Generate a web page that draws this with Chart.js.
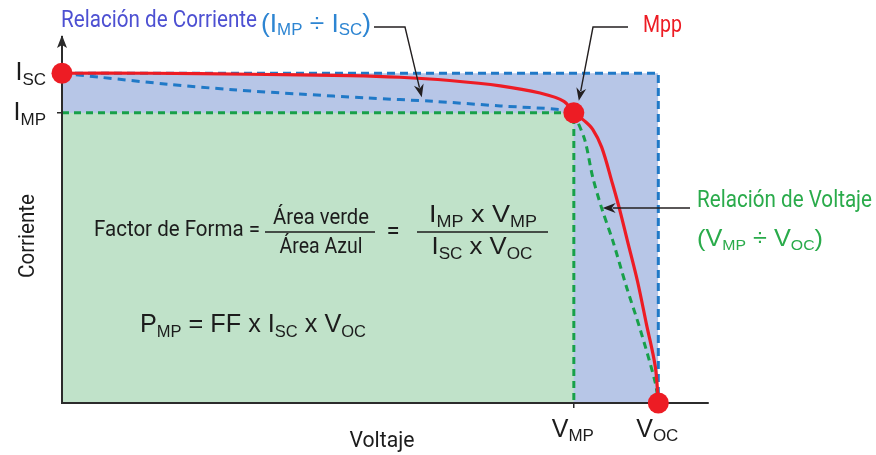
<!DOCTYPE html>
<html><head><meta charset="utf-8">
<script src="https://cdn.jsdelivr.net/npm/chart.js@4.4.1/dist/chart.umd.min.js"></script>
<style>html,body{margin:0;padding:0;background:#fff}canvas{display:block}</style>
</head><body>
<canvas id="c" width="876" height="455"></canvas>
<script>
// ---- key values (normalised units) ----
const ISC = 1.0, IMP = 0.88, VMP = 0.515, VOC = 0.6;
const X_MAX = 0.65, Y_MAX = 1.11;
const xTickValues = [VMP, VOC];
const yTickValues = [IMP, ISC];
const xTickLabels = [["V","MP"],["V","OC"]];
const yTickLabels = [["I","MP"],["I","SC"]];

// I-V curve (red)
const redV = [0, 0.089, 0.189, 0.290, 0.340, 0.390, 0.441, 0.481, 0.505, 0.515, 0.526, 0.534, 0.543, 0.554, 0.561, 0.569, 0.579, 0.588, 0.597, 0.600];
const redI = [1.0, 1.0, 0.997, 0.993, 0.988, 0.978, 0.962, 0.940, 0.915, 0.880, 0.855, 0.830, 0.776, 0.664, 0.588, 0.491, 0.370, 0.240, 0.109, 0];
// current-ratio dashed curve (blue)
const blueV = [0, 0.038, 0.106, 0.172, 0.239, 0.307, 0.373, 0.441, 0.501, 0.515];
const blueI = [1.0, 0.988, 0.967, 0.950, 0.937, 0.925, 0.915, 0.901, 0.890, 0.880];
// voltage-ratio dashed curve (green)
const greenV = [0.515, 0.526, 0.534, 0.543, 0.554, 0.568, 0.582, 0.597, 0.600];
const greenI = [0.880, 0.798, 0.685, 0.591, 0.494, 0.352, 0.221, 0.061, 0];
// marked points: Isc, Mpp, Voc
const markV = [0, VMP, VOC];
const markI = [ISC, IMP, 0];
// boxes
const blueBoxV = [0, VOC, VOC];
const blueBoxI = [ISC, ISC, 0];
const greenBoxV = [0, VMP, VMP];
const greenBoxI = [IMP, IMP, 0];

const zip = (xs, ys) => xs.map((x, i) => ({x, y: ys[i]}));

const RED = '#ed1c24', BLUE = '#2079c7', GREEN = '#17a049';
const AXIS = '#2b2b2b';

function rich(ctx, segs, x, y, opt) {
  opt = opt || {};
  let w = 0;
  const ws = segs.map(s => { ctx.font = (s[3]||'400') + ' ' + s[1] + 'px ' + s[2]; const m = ctx.measureText(s[0]).width; w += m; return m; });
  const sx = opt.width ? opt.width / w : 1;
  let start = x;
  if (opt.align === 'center') start = x - w * sx / 2;
  else if (opt.align === 'right') start = x - w * sx;
  ctx.save();
  ctx.translate(start, y);
  ctx.scale(sx, 1);
  ctx.textAlign = 'left'; ctx.textBaseline = 'alphabetic';
  let cx = 0;
  segs.forEach((s, i) => {
    ctx.font = (s[3]||'400') + ' ' + s[1] + 'px ' + s[2];
    ctx.fillStyle = s[5] || opt.color || '#1a1a1a';
    ctx.fillText(s[0], cx, s[4] || 0);
    cx += ws[i];
  });
  ctx.restore();
}

function arrow(ctx, pts, color) {
  ctx.save();
  ctx.strokeStyle = color; ctx.fillStyle = color; ctx.lineWidth = 1.4;
  const n = pts.length;
  const [tx, ty] = pts[n-1], [px, py] = pts[n-2];
  const ang = Math.atan2(ty - py, tx - px);
  const L = 13, H = 5;
  const bx = tx - Math.cos(ang) * (L - 3), by = ty - Math.sin(ang) * (L - 3);
  ctx.beginPath();
  ctx.moveTo(pts[0][0], pts[0][1]);
  for (let i = 1; i < n - 1; i++) ctx.lineTo(pts[i][0], pts[i][1]);
  ctx.lineTo(bx, by);
  ctx.stroke();
  ctx.beginPath();
  ctx.moveTo(tx, ty);
  ctx.lineTo(tx - Math.cos(ang) * L - Math.sin(ang) * H, ty - Math.sin(ang) * L + Math.cos(ang) * H);
  ctx.lineTo(tx - Math.cos(ang) * (L - 4), ty - Math.sin(ang) * (L - 4));
  ctx.lineTo(tx - Math.cos(ang) * L + Math.sin(ang) * H, ty - Math.sin(ang) * L - Math.cos(ang) * H);
  ctx.closePath();
  ctx.fill();
  ctx.restore();
}

const CF = 'Roboto';
const MF = '"Liberation Sans", Arial';
const TXT = '#1c1c1c';

const axesOverFill = {
  id: 'axesOverFill',
  afterDatasetDraw(chart, args) {
    if (args.index === 1) {
      chart.scales.x.drawBorder();
      chart.scales.y.drawBorder();
    }
  }
};

const annotations = {
  id: 'annotations',
  afterDraw(chart) {
    const ctx = chart.ctx, xs = chart.scales.x, ys = chart.scales.y, ca = chart.chartArea;
    const X = v => xs.getPixelForValue(v), Y = v => ys.getPixelForValue(v);
    // y-axis arrow head
    ctx.save();
    ctx.fillStyle = AXIS;
    ctx.beginPath();
    ctx.moveTo(ca.left, ca.top - 2);
    ctx.lineTo(ca.left - 5, ca.top + 11);
    ctx.lineTo(ca.left, ca.top + 8);
    ctx.lineTo(ca.left + 5, ca.top + 11);
    ctx.closePath(); ctx.fill();
    ctx.restore();

    // tick labels
    yTickValues.forEach((v, i) => {
      const l = yTickLabels[i];
      rich(ctx, [[l[0], 25, MF], [l[1], 17, MF, '400', 5]], ca.left - 16, Y(v) + 7, {align: 'right', color: TXT});
    });
    xTickValues.forEach((v, i) => {
      const l = xTickLabels[i];
      rich(ctx, [[l[0], 25, MF], [l[1], 17, MF, '400', 4]], X(v) - 1, ca.bottom + 34, {align: 'center', color: TXT});
    });

    // axis titles
    ctx.save();
    ctx.translate(26, 236); ctx.rotate(-Math.PI / 2);
    rich(ctx, [['Corriente', 22, CF]], 0, 8, {align: 'center', width: 84, color: TXT});
    ctx.restore();
    rich(ctx, [['Voltaje', 22, CF]], 382, 447, {align: 'center', width: 65, color: TXT});

    // Relación de Corriente
    rich(ctx, [['Relación de Corriente', 23, CF]], 61, 27, {width: 196, color: '#4d50d2'});
    rich(ctx, [['(', 25, MF], ['I', 25, MF], ['MP', 16, MF, '400', 3], [' ÷ ', 25, MF], ['I', 25, MF], ['SC', 16, MF, '400', 3], [')', 25, MF]],
      261, 32, {width: 110, color: '#2d85d2'});
    arrow(ctx, [[374, 27], [405, 27], [X(0.362), Y(0.927)]], '#231f20');

    // Mpp
    rich(ctx, [['Mpp', 24, CF]], 643, 32, {width: 39, color: RED});
    arrow(ctx, [[628, 27], [593, 27], [X(VMP) + 5, Y(IMP) - 12]], '#231f20');

    // Relación de Voltaje
    rich(ctx, [['Relación de Voltaje', 23, CF]], 697, 207, {width: 175, color: '#2aab4b'});
    rich(ctx, [['(', 24, MF], ['V', 24, MF], ['MP', 15, MF, '400', 4], [' ÷ ', 24, MF], ['V', 24, MF], ['OC', 15, MF, '400', 4], [')', 24, MF]],
      697, 246, {width: 126, color: '#2aab4b'});
    arrow(ctx, [[690, 208], [X(0.544), 208]], '#231f20');

    // Formula
    rich(ctx, [['Factor de Forma =', 22, CF]], 94, 236, {width: 166, color: TXT});
    rich(ctx, [['Área verde', 22, CF]], 321, 224, {align: 'center', width: 96, color: TXT});
    rich(ctx, [['Área Azul', 22, CF]], 321, 253, {align: 'center', width: 83, color: TXT});
    ctx.save(); ctx.strokeStyle = TXT; ctx.lineWidth = 1.3;
    ctx.beginPath(); ctx.moveTo(265, 232); ctx.lineTo(375, 232); ctx.moveTo(417, 232); ctx.lineTo(548, 232); ctx.stroke();
    ctx.restore();
    rich(ctx, [['=', 24, CF]], 393, 239, {align: 'center', color: TXT});
    rich(ctx, [['I', 24, MF], ['MP', 16, MF, '400', 5], [' x V', 24, MF], ['MP', 16, MF, '400', 5]], 483, 222, {align: 'center', width: 108, color: TXT});
    rich(ctx, [['I', 24, MF], ['SC', 16, MF, '400', 5], [' x V', 24, MF], ['OC', 16, MF, '400', 5]], 482, 254, {align: 'center', width: 101, color: TXT});
    rich(ctx, [['P', 26, MF], ['MP', 17, MF, '400', 5], [' = FF x I', 26, MF], ['SC', 17, MF, '400', 5], [' x V', 26, MF], ['OC', 17, MF, '400', 5]],
      140, 332, {width: 226, color: TXT});
  }
};

const lineBase = {pointRadius: 0, pointHoverRadius: 0, tension: 0, showLine: true};

new Chart(document.getElementById('c'), {
  type: 'line',
  data: {
    datasets: [
      Object.assign({}, lineBase, {label: 'Área azul', data: zip(blueBoxV, blueBoxI), fill: 'origin', backgroundColor: '#b7c6e7',
        borderColor: BLUE, borderWidth: 3, borderDash: [8, 5], order: 6}),
      Object.assign({}, lineBase, {label: 'Área verde', data: zip(greenBoxV, greenBoxI), fill: 'origin', backgroundColor: '#c0e2c9',
        borderColor: GREEN, borderWidth: 3, borderDash: [7, 5], order: 5}),
      Object.assign({}, lineBase, {label: 'Relación de Corriente', data: zip(blueV, blueI), fill: false,
        borderColor: BLUE, borderWidth: 3, borderDash: [8, 6], tension: 0.3, order: 4}),
      Object.assign({}, lineBase, {label: 'Relación de Voltaje', data: zip(greenV, greenI), fill: false,
        borderColor: GREEN, borderWidth: 3, borderDash: [7, 5], tension: 0.3, order: 3}),
      Object.assign({}, lineBase, {label: 'Curva I-V', data: zip(redV, redI), fill: false,
        borderColor: RED, borderWidth: 3.2, tension: 0.35, order: 2}),
      {label: 'Puntos', data: zip(markV, markI), showLine: false, pointRadius: 10.5, pointHoverRadius: 10.5,
        pointBackgroundColor: RED, pointBorderWidth: 0, backgroundColor: RED, borderColor: RED, clip: false, order: 1}
    ]
  },
  options: {
    responsive: false,
    animation: false,
    devicePixelRatio: 1,
    layout: {padding: {left: 0, right: 168, top: 37, bottom: 0}},
    plugins: {legend: {display: false}, tooltip: {enabled: false}},
    events: [],
    scales: {
      x: {
        type: 'linear', position: 'bottom', min: 0, max: X_MAX,
        afterBuildTicks: s => { s.ticks = xTickValues.map(v => ({value: v})); },
        afterFit: s => { s.height = 52; },
        ticks: {display: false},
        grid: {display: true, drawOnChartArea: false, drawTicks: true, tickLength: 5, color: AXIS, lineWidth: 1.5},
        border: {display: true, color: AXIS, width: 2}
      },
      y: {
        type: 'linear', position: 'left', min: 0, max: Y_MAX,
        afterBuildTicks: s => { s.ticks = yTickValues.map(v => ({value: v})); },
        afterFit: s => { s.width = 62; },
        ticks: {display: false},
        grid: {display: true, drawOnChartArea: false, drawTicks: true, tickLength: 5, color: AXIS, lineWidth: 1.5},
        border: {display: true, color: AXIS, width: 2}
      }
    }
  },
  plugins: [axesOverFill, annotations]
});
</script>
</body></html>
